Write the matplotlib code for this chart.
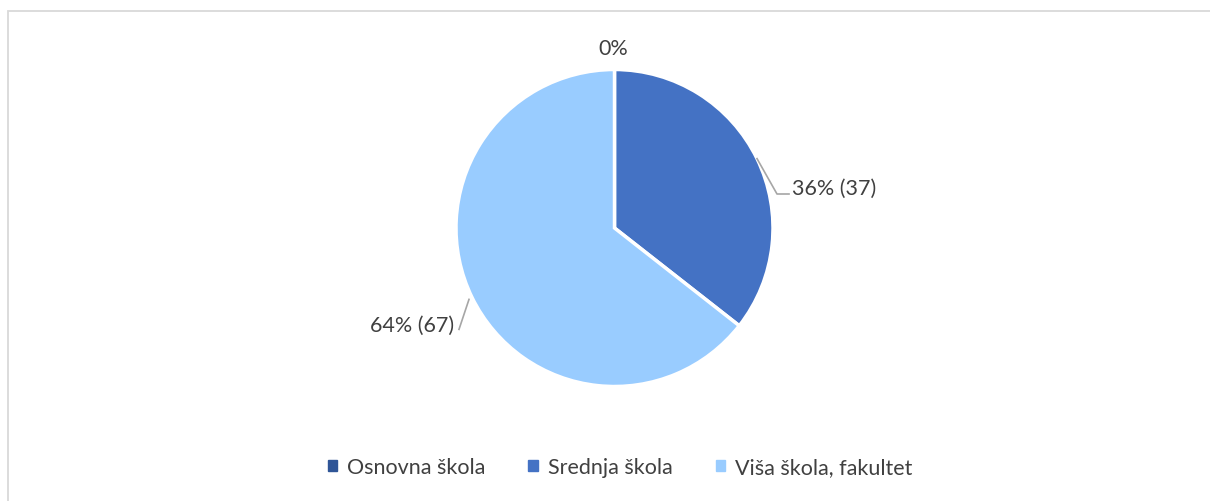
import numpy as np
import matplotlib.pyplot as plt
from matplotlib.patches import Rectangle

categories = ['Osnovna škola', 'Srednja škola', 'Viša škola, fakultet']
counts = [0, 37, 67]
percent_labels = ['0%', '36% (37)', '64% (67)']
colors = ['#2F5597', '#4472C4', '#99CCFF']

W, H = 1210, 502
plt.rcParams['font.family'] = ['Lato', 'DejaVu Sans']

fig = plt.figure(figsize=(W / 100, H / 100), dpi=100)
ax = fig.add_axes([0, 0, 1, 1])

# chart frame
fig.patches.append(Rectangle((8 / W, -0.1), 1.2, (H - 12) / H + 0.1,
                             transform=fig.transFigure, fill=False,
                             edgecolor='#D9D9D9', linewidth=1.3))

cx, cy, r = 614.5, H - 229, 158.5
wedges, _ = ax.pie(counts, colors=colors, startangle=90, counterclock=False,
                   center=(cx, cy), radius=r, frame=True,
                   wedgeprops=dict(edgecolor='white', linewidth=2.5))
ax.set_xlim(0, W)
ax.set_ylim(0, H)
ax.set_aspect('equal')
ax.axis('off')

txt = dict(fontsize=15.5, color='#404040')
# 0% label at the top
ax.text(cx - 1, H - 49, percent_labels[0], ha='center', va='center', **txt)

# Srednja skola
w = wedges[1]
mid = np.deg2rad((w.theta1 + w.theta2) / 2)
p0 = (cx + r * np.cos(mid), cy + r * np.sin(mid))
corner = (p0[0] + 20, H - 195)
ax.plot([p0[0], corner[0], corner[0] + 12], [p0[1], corner[1], corner[1]],
        color='#A6A6A6', linewidth=1.2)
ax.text(corner[0] + 15, H - 189, percent_labels[1], ha='left', va='center', **txt)

# Visa skola
w = wedges[2]
mid = np.deg2rad((w.theta1 + w.theta2) / 2)
p0 = (cx + r * np.cos(mid) - 3, cy + r * np.sin(mid) - 2)
p1 = (p0[0] - 10, p0[1] - 30)
ax.plot([p0[0], p1[0]], [p0[1], p1[1]], color='#A6A6A6', linewidth=1.2)
ax.text(p1[0] - 5, H - 326, percent_labels[2], ha='right', va='center', **txt)

handles = [plt.Rectangle((0, 0), 1, 1, color=c) for c in colors]
leg = fig.legend(handles, categories, loc='center', bbox_to_anchor=(620 / W, 1 - 468 / H),
                 ncol=3, frameon=False, fontsize=15.5, handlelength=0.45,
                 handleheight=0.45, handletextpad=0.45, columnspacing=2.0)
for t in leg.get_texts():
    t.set_color('#404040')

fig.savefig('out.png', dpi=100)
